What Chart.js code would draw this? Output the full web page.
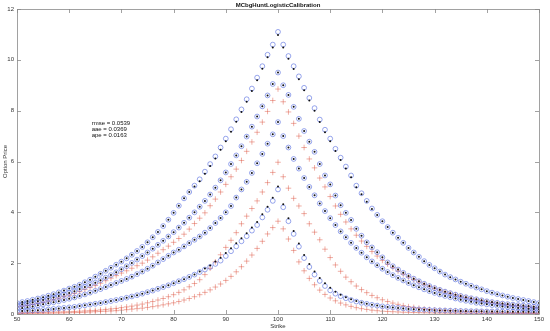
<!DOCTYPE html>
<html>
<head>
<meta charset="UTF-8">
<script src="https://cdn.jsdelivr.net/npm/chart.js"></script>
<style>
  html, body { margin: 0; padding: 0; background: #fff; }
  #wrap { position: relative; width: 550px; height: 331px; }
</style>
</head>
<body>
<div id="wrap"><canvas id="chart"></canvas></div>
<script>
// strikes (x values)
const strikes = [50,51,52,53,54,55,56,57,58,59,60,61,62,63,64,65,66,67,68,69,70,71,72,73,74,75,76,77,78,79,
  80,81,82,83,84,85,86,87,88,89,90,91,92,93,94,95,96,97,98,99,100,101,102,103,104,105,106,107,108,109,
  110,111,112,113,114,115,116,117,118,119,120,121,122,123,124,125,126,127,128,129,130,131,132,133,134,135,
  136,137,138,139,140,141,142,143,144,145,146,147,148,149,150];

// market prices (blue circles), one array per maturity
const priceA = [0.43,0.47,0.51,0.56,0.61,0.66,0.72,0.78,0.85,0.92,
  1.00,1.07,1.15,1.25,1.35,1.47,1.58,1.70,1.82,1.94,
  2.06,2.19,2.33,2.48,2.64,2.82,3.02,3.23,3.46,3.71,
  3.98,4.26,4.55,4.80,5.05,5.30,5.60,5.90,6.20,6.55,
  6.90,7.27,7.66,8.05,8.45,8.87,9.30,9.75,10.20,10.60,
  11.10,
  10.60,10.15,9.75,9.35,8.90,8.50,8.10,7.65,7.25,6.90,
  6.50,6.15,5.80,5.45,5.05,4.75,4.45,4.15,3.90,3.65,
  3.42,3.20,3.00,2.80,2.60,2.42,2.25,2.08,1.93,1.80,
  1.67,1.55,1.45,1.36,1.27,1.19,1.11,1.04,0.97,0.90,
  0.84,0.78,0.73,0.68,0.63,0.59,0.55,0.51,0.47,0.43];
const priceB = [0.35,0.38,0.42,0.46,0.50,0.55,0.60,0.65,0.71,0.77,
  0.83,0.90,0.98,1.06,1.14,1.23,1.33,1.43,1.53,1.64,
  1.76,1.88,2.01,2.14,2.28,2.42,2.57,2.72,2.88,3.05,
  3.22,3.40,3.59,3.79,4.00,4.22,4.45,4.70,4.97,5.26,
  5.57,5.90,6.24,6.60,6.98,7.37,7.77,8.17,8.60,9.05,
  9.50,
  9.00,8.62,8.15,7.68,7.20,6.78,6.38,5.90,5.45,5.10,
  4.66,4.28,3.98,3.70,3.35,3.08,2.82,2.62,2.43,2.23,
  2.03,1.88,1.75,1.62,1.50,1.39,1.29,1.19,1.10,1.02,
  0.95,0.88,0.82,0.76,0.71,0.66,0.62,0.58,0.54,0.50,
  0.47,0.44,0.41,0.39,0.37,0.35,0.33,0.31,0.29,0.28];
const priceD = [0.21,0.24,0.27,0.30,0.34,0.38,0.42,0.46,0.50,0.55,
  0.60,0.65,0.71,0.77,0.84,0.91,0.98,1.06,1.14,1.22,
  1.30,1.38,1.47,1.57,1.67,1.78,1.90,2.03,2.16,2.29,
  2.42,2.53,2.66,2.79,2.92,3.05,3.20,3.38,3.58,3.78,
  4.00,4.25,4.58,4.90,5.20,5.55,5.93,6.30,6.70,7.07,
  7.55,
  7.00,6.55,6.10,5.72,5.35,5.00,4.67,4.35,4.05,3.77,
  3.50,3.25,3.02,2.80,2.60,2.41,2.23,2.07,1.92,1.78,
  1.65,1.53,1.42,1.32,1.22,1.13,1.05,0.97,0.90,0.83,
  0.77,0.71,0.66,0.61,0.56,0.52,0.48,0.44,0.41,0.38,
  0.35,0.32,0.30,0.28,0.26,0.24,0.22,0.21,0.20,0.19];
const priceF = [0.11,0.12,0.13,0.14,0.15,0.16,0.18,0.20,0.22,0.24,
  0.26,0.28,0.31,0.34,0.37,0.40,0.43,0.47,0.51,0.55,
  0.59,0.64,0.69,0.74,0.80,0.86,0.92,0.99,1.06,1.13,
  1.21,1.29,1.37,1.46,1.55,1.65,1.75,1.85,1.97,2.10,
  2.28,2.47,2.66,2.86,3.06,3.28,3.50,3.80,4.10,4.45,
  4.90,
  4.20,3.65,3.15,2.65,2.20,1.85,1.55,1.30,1.10,0.93,
  0.80,0.70,0.62,0.55,0.49,0.44,0.40,0.36,0.33,0.30,
  0.28,0.26,0.24,0.22,0.20,0.19,0.18,0.17,0.16,0.15,
  0.14,0.135,0.13,0.125,0.12,0.115,0.11,0.11,0.105,0.10,
  0.10,0.095,0.095,0.09,0.09,0.09,0.085,0.085,0.08,0.08];

// model prices (black dots); B and D sit on the market points
const modelA = [0.43,0.47,0.51,0.56,0.61,0.66,0.72,0.78,0.85,0.92,
  1.00,1.07,1.15,1.25,1.35,1.47,1.58,1.70,1.82,1.94,
  2.06,2.19,2.33,2.48,2.64,2.82,3.02,3.23,3.46,3.71,
  3.98,4.26,4.55,4.80,5.02,5.22,5.52,5.82,6.12,6.46,
  6.80,7.17,7.56,7.95,8.35,8.77,9.20,9.65,10.10,10.49,
  10.98,
  10.49,10.04,9.64,9.24,8.80,8.40,8.00,7.55,7.15,6.80,
  6.41,6.06,5.72,5.38,4.99,4.71,4.42,4.13,3.90,3.65,
  3.42,3.20,3.00,2.80,2.60,2.42,2.25,2.08,1.93,1.80,
  1.67,1.55,1.45,1.36,1.27,1.19,1.11,1.04,0.97,0.90,
  0.84,0.78,0.73,0.68,0.63,0.59,0.55,0.51,0.47,0.43];
const modelF = [0.11,0.12,0.13,0.14,0.15,0.16,0.18,0.20,0.22,0.24,
  0.26,0.28,0.31,0.34,0.37,0.40,0.43,0.47,0.51,0.55,
  0.59,0.64,0.69,0.74,0.80,0.86,0.92,0.99,1.06,1.13,
  1.21,1.29,1.37,1.46,1.55,1.67,1.79,1.91,2.07,2.21,
  2.40,2.59,2.78,2.98,3.18,3.40,3.62,3.92,4.22,4.57,
  5.02,
  4.32,3.77,3.27,2.77,2.32,1.97,1.67,1.42,1.21,1.03,
  0.88,0.76,0.66,0.58,0.51,0.45,0.40,0.36,0.33,0.30,
  0.28,0.26,0.24,0.22,0.20,0.19,0.18,0.17,0.16,0.15,
  0.14,0.135,0.13,0.125,0.12,0.115,0.11,0.11,0.105,0.10,
  0.10,0.095,0.095,0.09,0.09,0.09,0.085,0.085,0.08,0.08];

// red plus series
const plusC = [0.28,0.31,0.34,0.38,0.42,0.46,0.51,0.56,0.62,0.68,
  0.74,0.81,0.88,0.96,1.04,1.12,1.21,1.31,1.41,1.51,
  1.61,1.70,1.80,1.90,2.00,2.12,2.25,2.39,2.53,2.67,
  2.82,2.97,3.14,3.34,3.56,3.77,3.98,4.26,4.52,4.80,
  5.10,5.40,5.70,6.04,6.40,6.77,7.15,7.55,7.97,8.40,
  8.85,
  8.35,7.95,7.50,7.00,6.55,6.10,5.75,5.35,5.00,4.62,
  4.25,3.92,3.62,3.35,3.10,2.87,2.66,2.46,2.28,2.11,
  1.96,1.82,1.69,1.57,1.46,1.36,1.26,1.17,1.09,1.01,
  0.94,0.87,0.81,0.75,0.70,0.65,0.60,0.56,0.52,0.48,
  0.45,0.42,0.39,0.36,0.34,0.32,0.30,0.28,0.26,0.24];
const plusE = [0.04,0.045,0.05,0.055,0.06,0.065,0.07,0.075,0.08,0.085,
  0.09,0.10,0.11,0.12,0.13,0.14,0.16,0.18,0.20,0.22,
  0.25,0.28,0.31,0.35,0.39,0.44,0.49,0.55,0.61,0.68,
  0.76,0.85,0.95,1.07,1.20,1.35,1.55,1.80,2.05,2.33,
  2.62,2.90,3.20,3.55,3.85,4.15,4.45,4.80,5.17,5.57,
  5.97,
  5.40,4.95,4.55,4.25,3.95,3.55,3.22,2.92,2.55,2.22,
  1.93,1.68,1.45,1.27,1.10,0.96,0.84,0.73,0.64,0.56,
  0.49,0.43,0.38,0.33,0.29,0.26,0.23,0.20,0.18,0.16,
  0.15,0.14,0.13,0.12,0.11,0.10,0.095,0.09,0.085,0.08,
  0.075,0.07,0.065,0.06,0.057,0.054,0.051,0.048,0.045,0.043];
const plusG = [0.02,0.02,0.02,0.025,0.025,0.03,0.03,0.035,0.04,0.045,
  0.05,0.055,0.06,0.07,0.08,0.09,0.10,0.11,0.12,0.13,
  0.15,0.17,0.19,0.21,0.23,0.26,0.29,0.32,0.36,0.40,
  0.44,0.49,0.55,0.61,0.68,0.76,0.85,0.95,1.06,1.18,
  1.32,1.48,1.66,1.86,2.08,2.32,2.58,2.86,3.15,3.40,
  3.65,
  3.35,2.95,2.50,2.05,1.70,1.40,1.15,0.94,0.77,0.63,
  0.52,0.43,0.36,0.30,0.25,0.21,0.18,0.15,0.13,0.11,
  0.10,0.09,0.08,0.07,0.065,0.06,0.055,0.05,0.045,0.04,
  0.038,0.036,0.034,0.032,0.03,0.028,0.026,0.025,0.024,0.023,
  0.022,0.021,0.02,0.02,0.02,0.02,0.02,0.02,0.02,0.02];

const xTicks = [50,60,70,80,90,100,110,120,130,140,150];
const yTicks = [0,2,4,6,8,10,12];
const statLines = ['rmse = 0.0539', 'aae = 0.0369', 'ape = 0.0163'];

const marketSeries = [priceA, priceB, priceD, priceF];
const modelSeries = [modelA, priceB, priceD, modelF];
const plusSeries = [plusC, plusE, plusG];

function toPoints(vals) {
  return strikes.map((k, i) => ({ x: k, y: vals[i] }));
}

const datasets = [];
plusSeries.forEach(s => datasets.push({
  data: toPoints(s), pointStyle: 'cross', pointRadius: 2.8, borderWidth: 0.6,
  borderColor: 'rgba(220,75,55,0.75)', backgroundColor: 'transparent', showLine: false, order: 3
}));
marketSeries.forEach(s => datasets.push({
  data: toPoints(s), pointStyle: 'circle', pointRadius: 2.4, borderWidth: 0.7,
  borderColor: 'rgba(70,95,220,0.8)', backgroundColor: 'transparent', showLine: false, order: 2
}));
modelSeries.forEach(s => datasets.push({
  data: toPoints(s), pointStyle: 'circle', pointRadius: 1.0, borderWidth: 0,
  backgroundColor: '#111', borderColor: '#111', showLine: false, order: 1
}));

const fontFam = '"Liberation Sans", Arial, sans-serif';

// box, inward ticks, titles and the stats text
const matlabFrame = {
  id: 'matlabFrame',
  afterDraw(chart) {
    const { ctx, chartArea: a, scales: { x, y } } = chart;
    ctx.save();
    ctx.strokeStyle = '#8a8a8a';
    ctx.lineWidth = 0.8;
    ctx.strokeRect(a.left + 0.5, a.top + 0.5, a.right - a.left, a.bottom - a.top);
    ctx.beginPath();
    xTicks.forEach(v => {
      const px = Math.round(x.getPixelForValue(v)) + 0.5;
      ctx.moveTo(px, a.bottom); ctx.lineTo(px, a.bottom - 4);
      ctx.moveTo(px, a.top); ctx.lineTo(px, a.top + 4);
    });
    yTicks.forEach(v => {
      const py = Math.round(y.getPixelForValue(v)) + 0.5;
      ctx.moveTo(a.left, py); ctx.lineTo(a.left + 4, py);
      ctx.moveTo(a.right, py); ctx.lineTo(a.right - 4, py);
    });
    ctx.stroke();

    ctx.fillStyle = '#111';
    ctx.textAlign = 'center';
    ctx.textBaseline = 'middle';
    ctx.font = 'bold 6px ' + fontFam;
    ctx.fillText('MCbgHuntLogisticCalibration', (a.left + a.right) / 2, 5);

    ctx.fillStyle = '#333';
    ctx.font = '6px ' + fontFam;
    ctx.fillText('Strike', (a.left + a.right) / 2, 326);
    ctx.save();
    ctx.translate(5, (a.top + a.bottom) / 2);
    ctx.rotate(-Math.PI / 2);
    ctx.fillText('Option Price', 0, 0);
    ctx.restore();

    ctx.fillStyle = '#111';
    ctx.textAlign = 'left';
    const tx = x.getPixelForValue(64.3);
    statLines.forEach((s, i) => {
      ctx.fillText(s, tx, y.getPixelForValue(7.52) + i * 6);
    });
    ctx.restore();
  }
};

const tickFont = { family: fontFam, size: 6 };

new Chart(document.getElementById('chart'), {
  type: 'scatter',
  data: { datasets },
  options: {
    responsive: true,
    maintainAspectRatio: false,
    animation: false,
    layout: { padding: { top: 9, right: 11, left: 0, bottom: 0 } },
    plugins: { legend: { display: false }, tooltip: { enabled: false } },
    scales: {
      x: {
        type: 'linear', min: 50, max: 150,
        afterBuildTicks: s => { s.ticks = xTicks.map(v => ({ value: v })); },
        afterFit: s => { s.height = 17; },
        grid: { display: false, drawTicks: false }, border: { display: false },
        ticks: { font: tickFont, color: '#333', padding: 2, maxRotation: 0 }
      },
      y: {
        min: 0, max: 12,
        afterBuildTicks: s => { s.ticks = yTicks.map(v => ({ value: v })); },
        afterFit: s => { s.width = 17; },
        grid: { display: false, drawTicks: false }, border: { display: false },
        ticks: { font: tickFont, color: '#333', padding: 3 }
      }
    }
  },
  plugins: [matlabFrame]
});
</script>
</body>
</html>
